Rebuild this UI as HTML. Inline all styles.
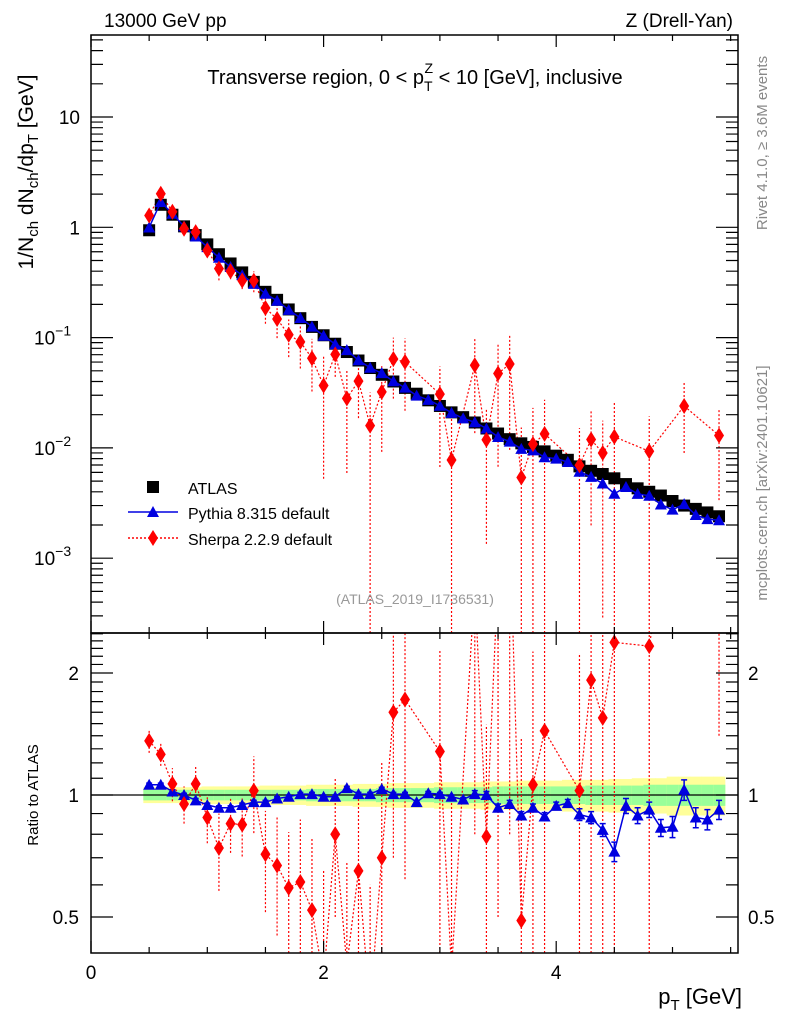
<!DOCTYPE html>
<html><head><meta charset="utf-8">
<style>
html,body{margin:0;padding:0;background:#fff;width:786px;height:1024px;overflow:hidden;}
svg{display:block;font-family:"Liberation Sans",Arial,sans-serif;}
</style></head>
<body>
<svg id="chart" width="786" height="1024" viewBox="0 0 786 1024" xmlns="http://www.w3.org/2000/svg">
<defs>
<clipPath id="cm"><rect x="91" y="35" width="647" height="598"/></clipPath>
<clipPath id="cr"><rect x="91" y="633" width="647" height="320"/></clipPath>
</defs>
<g id="bands" clip-path="url(#cr)"></g>
<g id="marks"></g>
<g id="axes"></g>
<text x="104" y="27" font-size="19">13000 GeV pp</text>
<text x="733" y="27" font-size="19" text-anchor="end">Z (Drell-Yan)</text>
<text x="415" y="84" font-size="20" text-anchor="middle">Transverse region, 0 &lt; p<tspan font-size="14" dy="7">T</tspan><tspan font-size="14" dx="-8" dy="-18">Z</tspan><tspan dy="11"> &lt; 10 [GeV], inclusive</tspan></text>
<text x="415" y="604" font-size="14" fill="#999" text-anchor="middle">(ATLAS_2019_I1736531)</text>
<text transform="translate(767,143) rotate(-90)" font-size="15" fill="#888" text-anchor="middle">Rivet 4.1.0, ≥ 3.6M events</text>
<text transform="translate(767,483) rotate(-90)" font-size="15" fill="#888" text-anchor="middle">mcplots.cern.ch [arXiv:2401.10621]</text>
<text transform="translate(33,172) rotate(-90)" font-size="21" text-anchor="middle">1/N<tspan font-size="15" dy="5">ch</tspan><tspan dy="-5"> dN</tspan><tspan font-size="15" dy="5">ch</tspan><tspan dy="-5">/dp</tspan><tspan font-size="15" dy="5">T</tspan><tspan dy="-5"> [GeV]</tspan></text>
<text transform="translate(38,795) rotate(-90)" font-size="15" text-anchor="middle">Ratio to ATLAS</text>
<text x="742" y="1004" font-size="22" text-anchor="end">p<tspan font-size="15" dy="6">T</tspan><tspan dy="-6"> [GeV]</tspan></text>
<g>
<rect x="147" y="481" width="12" height="12" fill="#000"/>
<text x="188" y="494" font-size="16">ATLAS</text>
<line x1="128" y1="512" x2="178" y2="512" stroke="#0000e0" stroke-width="1.5"/>
<polygon points="153,506 159,517 147,517" fill="#0000e0"/>
<text x="188" y="519" font-size="16">Pythia 8.315 default</text>
<line x1="128" y1="538" x2="178" y2="538" stroke="#f00" stroke-width="1.5" stroke-dasharray="2,2"/>
<polygon points="153,530 158,538 153,546 148,538" fill="#f00"/>
<text x="188" y="545" font-size="16">Sherpa 2.2.9 default</text>
</g>
</svg>
<script>
const pT=[0.5,0.6,0.7,0.8,0.9,1.0,1.1,1.2,1.3,1.4,1.5,1.6,1.7,1.8,1.9,2.0,2.1,2.2,2.3,2.4,2.5,2.6,2.7,2.8,2.9,3.0,3.1,3.2,3.3,3.4,3.5,3.6,3.7,3.8,3.9,4.0,4.1,4.2,4.3,4.4,4.5,4.6,4.7,4.8,4.9,5.0,5.1,5.2,5.3,5.4];
const atlas=[0.94,1.6,1.3,1.02,0.85,0.70,0.57,0.47,0.39,0.32,0.26,0.22,0.18,0.15,0.125,0.105,0.088,0.074,0.062,0.053,0.046,0.040,0.035,0.031,0.027,0.024,0.021,0.019,0.017,0.015,0.0135,0.012,0.011,0.0102,0.0093,0.0085,0.0078,0.0068,0.0062,0.0058,0.0053,0.0047,0.0043,0.0040,0.0037,0.0033,0.0030,0.0028,0.0026,0.0024];
const pythiaRatio=[1.06,1.06,1.02,1.0,0.97,0.945,0.93,0.93,0.945,0.96,0.96,0.98,0.99,1.005,1.005,0.99,0.99,1.04,1.005,1.005,1.035,1.005,1.005,0.96,1.01,1.005,0.99,0.975,1.005,1.0,0.93,0.95,0.89,0.93,0.885,0.94,0.955,0.895,0.88,0.82,0.725,0.94,0.89,0.92,0.83,0.835,1.03,0.88,0.87,0.92];
const pythiaErr=[0.01,0.01,0.01,0.01,0.01,0.01,0.01,0.01,0.01,0.01,0.01,0.01,0.01,0.01,0.01,0.01,0.01,0.01,0.01,0.01,0.01,0.01,0.01,0.01,0.01,0.01,0.01,0.01,0.02,0.02,0.02,0.02,0.02,0.02,0.02,0.02,0.02,0.03,0.03,0.03,0.04,0.04,0.04,0.04,0.04,0.05,0.06,0.05,0.05,0.05];
const sherpaRatio=[1.36,1.26,1.065,0.95,1.065,0.88,0.74,0.85,0.845,1.025,0.714,0.67,0.59,0.61,0.52,0.35,0.80,0.38,0.65,0.30,0.70,1.6,1.72,null,null,1.28,0.37,null,3.3,0.79,3.5,4.8,0.49,1.06,1.44,null,null,1.025,1.92,1.55,2.38,null,null,2.33,null,null,8.0,null,null,5.4];
const sherpaErr=[0.09,0.08,0.1,0.1,0.12,0.12,0.16,0.13,0.14,0.22,0.2,0.22,0.22,0.26,0.26,0.3,0.3,0.3,0.35,0.3,0.5,0.9,1.1,0,0,1.0,0.6,0,2.5,0.7,3,4,0.9,1.2,1.5,0,0,1.2,1.6,1.5,2.5,0,0,2.5,0,0,5,0,0,4];
const bandGreen=[0.03,0.03,0.03,0.03,0.03,0.03,0.03,0.03,0.03,0.03,0.03,0.03,0.03,0.03,0.035,0.035,0.035,0.035,0.035,0.035,0.04,0.04,0.04,0.04,0.04,0.045,0.045,0.045,0.045,0.045,0.05,0.05,0.05,0.05,0.05,0.05,0.05,0.05,0.055,0.055,0.055,0.055,0.055,0.06,0.06,0.06,0.06,0.06,0.06,0.06];
const bandYellow=[0.045,0.045,0.045,0.045,0.045,0.05,0.05,0.05,0.05,0.05,0.055,0.055,0.055,0.055,0.06,0.06,0.06,0.06,0.065,0.065,0.065,0.07,0.07,0.07,0.07,0.075,0.075,0.075,0.075,0.08,0.08,0.08,0.085,0.085,0.085,0.085,0.09,0.09,0.09,0.09,0.095,0.095,0.1,0.1,0.1,0.11,0.11,0.11,0.11,0.11];
const xTicks=[0,2,4];
const mainTicks=[0.001,0.01,0.1,1,10];
const mainTickLabels=["10","10","10","1","10"];
const mainTickExp=["−3","−2","−1","",""];
const ratioTicks=[0.5,1,2];
const ratioTickLabels=["0.5","1","2"];

const NS="http://www.w3.org/2000/svg";
const X=v=>91+v*116.3;
const Y=v=>117-(Math.log10(v)-1)*110.3;
const R=r=>795-Math.log2(r)*122;
const cM=y=>Math.min(633,Math.max(35,y));
const cR=y=>Math.min(953,Math.max(633,y));
function mk(tag,attrs,parent){const e=document.createElementNS(NS,tag);for(const k in attrs)e.setAttribute(k,attrs[k]);parent.appendChild(e);return e;}
const bands=document.getElementById('bands'),marks=document.getElementById('marks'),axes=document.getElementById('axes');
const hw=0.05;
pT.forEach((p,i)=>{
 const y=mk('rect',{x:X(p-hw),y:R(1+bandYellow[i]),width:X(p+hw)-X(p-hw)+0.5,height:R(1-bandYellow[i])-R(1+bandYellow[i]),fill:'#ffff99'},bands);
 
 
 const g=mk('rect',{x:X(p-hw),y:R(1+bandGreen[i]),width:X(p+hw)-X(p-hw)+0.5,height:R(1-bandGreen[i])-R(1+bandGreen[i]),fill:'#99ff99'},bands);
 
 
});
const ref=mk('line',{x1:91,x2:738,y1:R(1),y2:R(1),stroke:'#000','stroke-width':1.2},bands);


const gm=mk('g',{'clip-path':'url(#cm)'},marks);
const gr=mk('g',{'clip-path':'url(#cr)'},marks);
let sp=[];
pT.forEach((p,i)=>{const r=sherpaRatio[i];if(r===null)return;const v=atlas[i]*r;sp.push([X(p),Y(v)]);
 const e=sherpaErr[i]/r;const lo=Math.max(v*(1-e),1e-6),hi=v*(1+e);
 const l=mk('line',{x1:X(p),x2:X(p),y1:cM(Y(lo)),y2:cM(Y(hi)),stroke:'#f00','stroke-width':1.2,'stroke-dasharray':'2,2'},gm);
 
 
});
const sl=mk('polyline',{points:sp.map(a=>a.join(',')).join(' '),fill:'none',stroke:'#f00','stroke-width':1.2,'stroke-dasharray':'2,2'},gm);


pT.forEach((p,i)=>{const r=mk('rect',{x:X(p)-6,y:Y(atlas[i])-6,width:12,height:12,fill:'#000'},gm);
 
 });
const pp=pT.map((p,i)=>[X(p),Y(atlas[i]*pythiaRatio[i])]);
const pl=mk('polyline',{points:pp.map(a=>a.join(',')).join(' '),fill:'none',stroke:'#0000e0','stroke-width':1.5},gm);


pp.forEach(([x,y])=>{const t=mk('polygon',{points:`${x},${y-6} ${x+6},${y+5} ${x-6},${y+5}`,fill:'#0000e0'},gm);
 
 });
sp.forEach(([x,y])=>{const d=mk('polygon',{points:`${x},${y-8} ${x+5},${y} ${x},${y+8} ${x-5},${y}`,fill:'#f00'},gm);
 
 });
let sr=[];
pT.forEach((p,i)=>{const r=sherpaRatio[i];if(r===null)return;sr.push([X(p),R(r)]);
 const l=mk('line',{x1:X(p),x2:X(p),y1:cR(R(Math.max(r-sherpaErr[i],0.05))),y2:cR(R(r+sherpaErr[i])),stroke:'#f00','stroke-width':1.2,'stroke-dasharray':'2,2'},gr);
 
 
});
const srl=mk('polyline',{points:sr.map(a=>a.join(',')).join(' '),fill:'none',stroke:'#f00','stroke-width':1.2,'stroke-dasharray':'2,2'},gr);


const pr=pT.map((p,i)=>[X(p),R(pythiaRatio[i])]);
pT.forEach((p,i)=>{const x=X(p),a=R(pythiaRatio[i]+pythiaErr[i]),b=R(pythiaRatio[i]-pythiaErr[i]);
 const l=mk('path',{d:`M${x},${a}V${b}M${x-3},${a}H${x+3}M${x-3},${b}H${x+3}`,stroke:'#0000e0','stroke-width':1.5,fill:'none'},gr);
 
 });
const prl=mk('polyline',{points:pr.map(a=>a.join(',')).join(' '),fill:'none',stroke:'#0000e0','stroke-width':1.5},gr);


pr.forEach(([x,y])=>{const t=mk('polygon',{points:`${x},${y-6} ${x+6},${y+5} ${x-6},${y+5}`,fill:'#0000e0'},gr);
 
 });
sr.forEach(([x,y])=>{if(y<=633||y>=953)return;const d=mk('polygon',{points:`${x},${y-8} ${x+5},${y} ${x},${y+8} ${x-5},${y}`,fill:'#f00'},gr);
 
 });
const f1=mk('rect',{x:91,y:35,width:647,height:598,fill:'none',stroke:'#000','stroke-width':1.5},axes);


const f2=mk('rect',{x:91,y:633,width:647,height:320,fill:'none',stroke:'#000','stroke-width':1.5},axes);


let tk='';
for(let v=0;v<=5.5;v+=0.5){const x=X(v);const L=(Math.abs(v/2-Math.round(v/2))<1e-6)?12:6;
 tk+=`M${x},633V${633-L}M${x},35V${35+L}M${x},953V${953-L}M${x},633V${633+L}`;}
for(let d=-4;d<=1;d++)for(let m=1;m<=9;m++){const v=m*Math.pow(10,d);const y=Y(v);if(y<35||y>633)continue;const L=m===1?22:12;tk+=`M91,${y}H${91+L}M738,${y}H${738-L}`;}
const rmin=[0.5,0.6,0.7,0.8,0.9,1,1.1,1.2,1.3,1.4,1.5,1.6,1.7,1.8,1.9,2,2.1,2.2,2.3,2.4,2.5];
rmin.forEach(v=>{const y=R(v);const L=ratioTicks.includes(v)?22:12;tk+=`M91,${y}H${91+L}M738,${y}H${738-L}`;});
const tp=mk('path',{d:tk,stroke:'#000','stroke-width':1.2,fill:'none'},axes);


xTicks.forEach(v=>{const t=mk('text',{x:X(v),y:979,'font-size':19,'text-anchor':'middle'},axes);t.textContent=v;
 
 });
mainTicks.forEach((v,i)=>{const t=mk('text',{x:mainTickExp[i]?58:80,y:Y(v)+7,'font-size':19,'text-anchor':mainTickExp[i]?'start':'end'},axes);
 if(mainTickExp[i]){t.setAttribute('x',34);t.textContent=mainTickLabels[i];const s=mk('tspan',{'font-size':14,dy:-9},t);s.textContent=mainTickExp[i];}
 else t.textContent=mainTickLabels[i];
 
 });
ratioTicks.forEach((v,i)=>{const a=mk('text',{x:79,y:R(v)+7,'font-size':19,'text-anchor':'end'},axes);a.textContent=ratioTickLabels[i];
 
 
 const b=mk('text',{x:748,y:R(v)+7,'font-size':19},axes);b.textContent=ratioTickLabels[i];
 
 });
</script>
</body></html>
